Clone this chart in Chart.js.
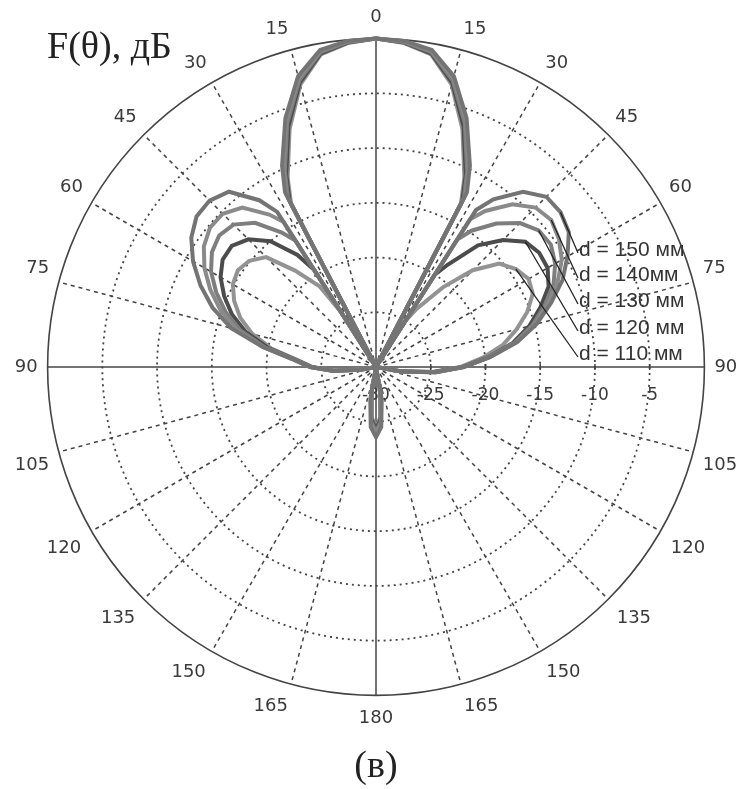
<!DOCTYPE html>
<html>
<head>
<meta charset="utf-8">
<script src="https://cdn.jsdelivr.net/npm/chart.js@4.4.1/dist/chart.umd.min.js"></script>
<style>
  body { margin: 0; background: #fff; }
  canvas { display: block; }
</style>
</head>
<body>
<canvas id="polarChart" width="740" height="789"></canvas>
<script>
// Polar radiation patterns F(theta), dB, for five values of d

// angles (deg, clockwise from 0 at top) at which the patterns were read
const angles = [0, 5, 10, 15, 20, 25, 27.5, 30, 32.5,
  35, 40, 45, 50, 55, 60, 65, 70, 75, 80, 85, 90, 95, 100, 105,
  110, 115, 120, 125, 130, 135, 140, 145, 150, 155, 160,
  165, 170, 175, 180, 185, 190, 195,
  200, 205, 210, 215, 220, 225, 230, 235, 240, 245, 250,
  255, 260, 265, 270, 275, 280, 285, 290, 295, 300, 305, 310, 315, 320, 325,
  327.5, 330, 332.5, 335, 340, 345, 350, 355];

const back = [-30, -30, -30, -30, -30, -30, -30, -30, -30, -30, -30];

const d150 = [0, -0.1, -0.6, -2.5, -5.8, -9.7, -12.0, -30, -13.0,
  -11.3, -9.1, -8.0, -8.0, -8.5, -9.8, -11.2, -13.0, -14.8, -16.9, -19.5, -22.0, -24.5, -27.5, -30,
  ...back,
  -30, -27.0, -24.5, -23.6, -24.5, -27.0, -30,
  ...back,
  -30, -28.5, -26.0, -24.0, -22.5, -19.5, -16.3, -14.1, -12.3, -10.7, -9.4, -8.6, -8.5, -9.1, -11.4,
  -13.2, -30, -12.0, -9.7, -5.8, -2.5, -0.6, -0.1];

const d140 = [0, -0.15, -0.7, -2.7, -6.0, -10.0, -12.3, -30, -14.0,
  -12.6, -10.6, -9.4, -9.1, -9.6, -10.4, -11.7, -13.3, -15.0, -17.0, -19.6, -22.0, -24.5, -27.5, -30,
  ...back,
  -30, -27.3, -24.8, -23.9, -24.8, -27.3, -30,
  ...back,
  -30, -28.5, -26.0, -24.0, -22.5, -19.5, -16.8, -14.9, -13.3, -11.9, -10.8, -10.2, -10.2, -11.0, -13.0,
  -14.3, -30, -12.3, -10.0, -6.0, -2.7, -0.7, -0.15];

const d130 = [0, -0.2, -0.8, -2.9, -6.3, -10.3, -12.6, -30, -16.2,
  -14.8, -12.9, -11.4, -10.6, -10.5, -11.1, -12.1, -13.6, -15.2, -17.1, -19.6, -22.0, -24.6, -27.6, -30,
  ...back,
  -30, -27.5, -25.0, -24.1, -25.0, -27.5, -30,
  ...back,
  -30, -28.5, -26.0, -24.0, -22.6, -19.7, -17.2, -15.4, -13.9, -12.6, -11.7, -11.3, -11.6, -12.8, -15.0,
  -16.3, -30, -12.6, -10.3, -6.3, -2.9, -0.8, -0.2];

const d120 = [0, -0.25, -0.9, -3.1, -6.6, -10.6, -12.9, -30, -20.0,
  -18.6, -15.5, -13.6, -12.2, -11.8, -11.9, -12.6, -14.0, -15.5, -17.3, -19.7, -22.1, -24.7, -27.7, -30,
  ...back,
  -30, -27.6, -25.2, -24.3, -25.2, -27.6, -30,
  ...back,
  -30, -28.6, -26.1, -24.1, -22.7, -20.0, -17.7, -16.0, -14.7, -13.6, -12.9, -12.8, -13.5, -15.0, -17.5,
  -19.5, -30, -12.9, -10.6, -6.6, -3.1, -0.9, -0.25];

const d110 = [0, -0.3, -1.0, -3.3, -6.9, -10.9, -13.2, -30, -25.0,
  -23.5, -20.5, -17.5, -15.3, -14.4, -13.9, -14.2, -15.3, -16.7, -18.2, -20.2, -22.3, -24.8, -27.8, -30,
  ...back,
  -30, -27.8, -25.4, -24.5, -25.4, -27.8, -30,
  ...back,
  -30, -28.7, -26.2, -24.2, -22.8, -20.3, -18.3, -16.8, -15.7, -14.9, -14.6, -14.9, -15.8, -18.5, -21.0,
  -24.0, -30, -13.2, -10.9, -6.9, -3.3, -1.0, -0.3];

const seriesNames = ['d = 150 мм', 'd = 140мм', 'd = 130 мм', 'd = 120 мм', 'd = 110 мм'];
const seriesData = [d150, d140, d130, d120, d110];
const seriesColors = ['#747474', '#8a8a8a', '#7e7e7e', '#4c4c4c', '#939393'];
const dbTicks = [-30, -25, -20, -15, -10, -5];

// radar needs evenly spaced labels, so use a 2.5 deg grid and leave gaps
const step = 2.5;
const labels = [];
for (let a = 0; a < 360; a += step) labels.push(a);

function toRadar(values) {
    const out = labels.map(() => null);
    angles.forEach((a, i) => { out[Math.round(a / step)] = values[i]; });
    return out;
}

const decor = {
    id: 'decor',
    beforeDatasetsDraw(chart) {
        const r = chart.scales.r;
        const ctx = chart.ctx;
        const i90 = labels.indexOf(90);
        ctx.save();
        ctx.font = '17px "DejaVu Sans"';
        ctx.fillStyle = '#3a3a3a';
        ctx.strokeStyle = '#444';
        ctx.lineWidth = 1.5;
        ctx.textAlign = 'center';
        ctx.textBaseline = 'middle';
        dbTicks.forEach(v => {
            const p = r.getPointPositionForValue(i90, v);
            ctx.fillText(String(v), p.x, p.y + 29);
            ctx.beginPath();
            ctx.moveTo(p.x, p.y - 3);
            ctx.lineTo(p.x, p.y + 3);
            ctx.stroke();
        });
        ctx.restore();
    },
    afterDatasetsDraw(chart) {
        const r = chart.scales.r;
        const ctx = chart.ctx;
        // leader lines from the side lobes to the d labels
        const leaderAt = [50, 50, 50, 50, 55];
        const textY = [250, 275, 301, 328, 354];
        ctx.save();
        ctx.strokeStyle = '#222';
        ctx.lineWidth = 1.3;
        ctx.font = '21px "Liberation Sans"';
        ctx.fillStyle = '#333';
        ctx.textAlign = 'left';
        ctx.textBaseline = 'middle';
        seriesNames.forEach((name, k) => {
            const a = leaderAt[k];
            const p = r.getPointPositionForValue(labels.indexOf(a), seriesData[k][angles.indexOf(a)]);
            ctx.beginPath();
            ctx.moveTo(p.x, p.y);
            ctx.lineTo(578, textY[k] + 3);
            ctx.stroke();
            ctx.fillText(name, 579, textY[k]);
        });

        ctx.fillStyle = '#222';
        ctx.font = '38px "Liberation Serif"';
        ctx.textBaseline = 'alphabetic';
        ctx.fillText('F(θ), дБ', 47, 58);

        ctx.font = '38px "Liberation Serif"';
        ctx.textAlign = 'center';
        ctx.textBaseline = 'middle';
        ctx.fillText('(в)', 376, 767);
        ctx.restore();
    }
};

new Chart(document.getElementById('polarChart'), {
    type: 'radar',
    data: {
        labels: labels,
        datasets: seriesData.map((vals, k) => ({
            label: seriesNames[k],
            data: toRadar(vals),
            borderColor: seriesColors[k],
            backgroundColor: 'transparent',
            borderWidth: 4,
            pointRadius: 0,
            fill: false,
            spanGaps: true,
            tension: 0
        }))
    },
    options: {
        responsive: false,
        animation: false,
        devicePixelRatio: 1,
        layout: { padding: { left: 14, right: 2, top: 7, bottom: 58 } },
        plugins: { legend: { display: false }, tooltip: { enabled: false } },
        scales: {
            r: {
                min: -30,
                max: 0,
                ticks: { display: false, stepSize: 5 },
                grid: {
                    circular: true,
                    color: '#444',
                    lineWidth: c => (c.tick && c.tick.value === 0 ? 1.6 : 1.8)
                },
                border: { dash: c => (c.tick && c.tick.value === 0 ? [] : [2, 4]) },
                angleLines: {
                    color: '#444',
                    lineWidth: c => (labels[c.index] % 15 === 0 ? 1.5 : 0),
                    borderDash: c => (labels[c.index] % 90 === 0 ? [] : [4, 4])
                },
                pointLabels: {
                    font: { family: 'DejaVu Sans', size: 18 },
                    color: '#3a3a3a',
                    padding: c => (labels[c.index] >= 120 && labels[c.index] <= 240 ? 12 : 10),
                    callback: v => (v % 15 === 0 ? String(v <= 180 ? v : 360 - v) : '')
                }
            }
        }
    },
    plugins: [decor]
});
</script>
</body>
</html>
